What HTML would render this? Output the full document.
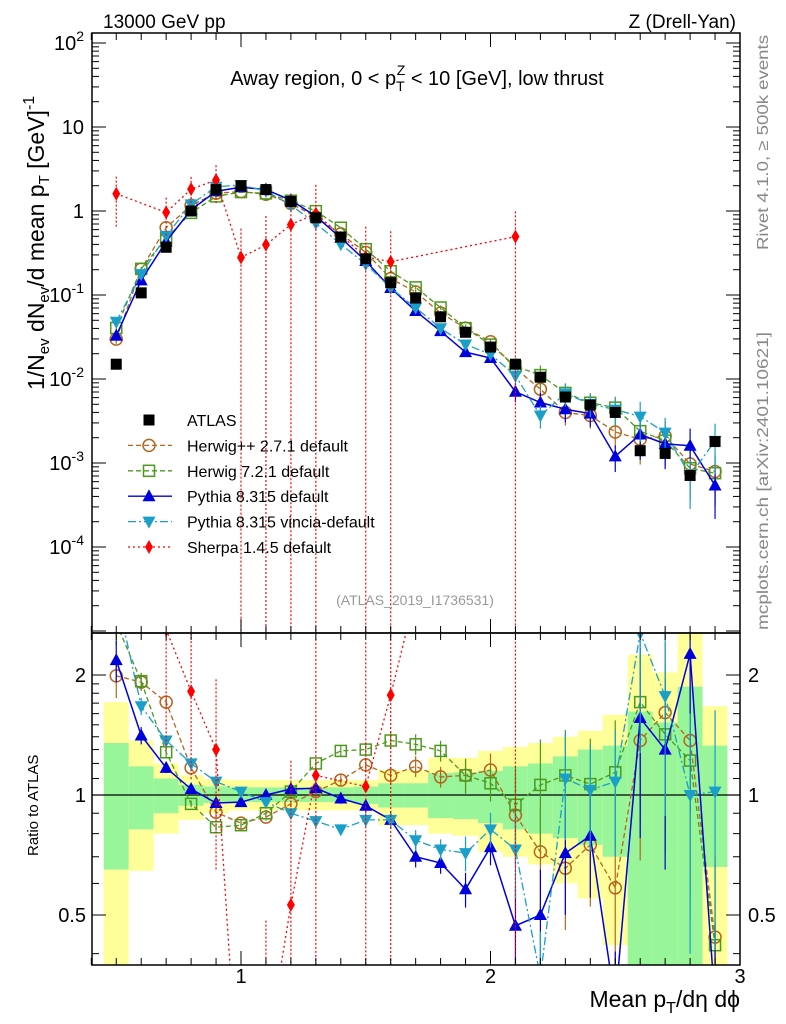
<!DOCTYPE html>
<html><head><meta charset="utf-8"><style>
html,body{margin:0;background:#fff;overflow:hidden;width:786px;height:1024px;}
svg{display:block;font-family:"Liberation Sans",sans-serif;}
</style></head><body>
<svg id="c" width="786" height="1024" viewBox="0 0 786 1024" xmlns="http://www.w3.org/2000/svg">
<defs>
<clipPath id="cm"><rect x="92" y="33" width="648" height="600"/></clipPath>
<clipPath id="cr"><rect x="92" y="633" width="648" height="332"/></clipPath>
</defs>
<g id="bands" clip-path="url(#cr)"></g>
<g id="gm" clip-path="url(#cm)"></g>
<g id="gr" clip-path="url(#cr)"></g>
<g id="axes"></g>
<text x="103" y="28" font-size="19">13000 GeV pp</text>
<text x="736" y="28" font-size="19" text-anchor="end">Z (Drell-Yan)</text>
<text x="417" y="85" font-size="20" text-anchor="middle">Away region, 0 &lt; p<tspan font-size="14" dy="6">T</tspan><tspan font-size="14" dx="-8" dy="-16">Z</tspan><tspan dy="10"> &lt; 10 [GeV], low thrust</tspan></text>
<text x="415" y="605" font-size="14" fill="#999" text-anchor="middle">(ATLAS_2019_I1736531)</text>
<text transform="translate(768,250) rotate(-90)" font-size="16" fill="#888" textLength="215" lengthAdjust="spacingAndGlyphs">Rivet 4.1.0, ≥ 500k events</text>
<text transform="translate(768,630) rotate(-90)" font-size="16" fill="#888" textLength="298" lengthAdjust="spacingAndGlyphs">mcplots.cern.ch [arXiv:2401.10621]</text>
<text transform="translate(44,390) rotate(-90)" font-size="23">1/N<tspan font-size="15" dy="5">ev</tspan><tspan dy="-5"> dN</tspan><tspan font-size="15" dy="5">ev</tspan><tspan dy="-5">/d mean p</tspan><tspan font-size="15" dy="5">T</tspan><tspan dy="-5"> [GeV]</tspan><tspan font-size="16" dy="-10">-1</tspan></text>
<text transform="translate(38,856) rotate(-90)" font-size="15">Ratio to ATLAS</text>
<text x="740" y="1007" font-size="23" text-anchor="end">Mean p<tspan font-size="16" dy="6">T</tspan><tspan dy="-6">/dη dϕ</tspan></text>
<g id="legend"></g>
</svg>
<script>
const xs=[0.5,0.6,0.7,0.8,0.9,1.0,1.1,1.2,1.3,1.4,1.5,1.6,1.7,1.8,1.9,2.0,2.1,2.2,2.3,2.4,2.5,2.6,2.7,2.8,2.9];
const atlas=[0.015,0.106,0.37,1.0,1.8,2.0,1.8,1.3,0.83,0.49,0.27,0.14,0.092,0.055,0.036,0.024,0.015,0.0105,0.0061,0.0049,0.0040,0.0014,0.0013,0.00071,0.0018];
const rHerwigPP=[1.99,1.92,1.71,1.17,0.905,0.85,0.88,0.95,1.02,1.09,1.19,1.12,1.18,1.11,1.12,1.155,0.89,0.72,0.655,0.75,0.585,1.37,1.61,1.37,0.44];
const rHerwig7=[2.7,1.93,1.28,0.95,0.83,0.84,0.90,1.02,1.2,1.29,1.30,1.37,1.34,1.29,1.12,1.07,0.945,1.06,1.12,1.065,1.14,1.71,1.42,1.22,0.42];
const rPythia=[2.18,1.41,1.17,1.035,0.955,0.96,1.0,1.035,1.04,0.98,0.94,0.866,0.70,0.675,0.58,0.74,0.47,0.50,0.715,0.79,0.3,1.56,1.30,2.26,0.3];
const rVincia=[3.2,1.67,1.37,1.2,1.08,1.02,0.96,0.90,0.86,0.82,0.866,0.866,0.77,0.73,0.715,0.82,0.73,0.35,1.10,1.03,1.08,2.55,1.77,1.0,1.02];
const rSherpa=[107,null,2.6,1.82,1.30,0.14,0.22,0.53,1.12,null,1.05,1.78,null,null,null,null,33,null,null,null,null,null,null,null,null];
const sherpaErr=[0.6,0,0.5,0.4,0.5,1.2,1.2,1.3,1.2,0,1.3,1.3,0,0,0,0,1.0,0,0,0,0,0,0,0,0];
const mcErr=[0.12,0.05,0.03,0.02,0.02,0.02,0.02,0.02,0.02,0.03,0.04,0.05,0.06,0.06,0.1,0.1,0.25,0.3,0.3,0.3,0.35,0.5,0.5,0.6,0.6];
const yHi=[1.71,1.37,1.2,1.12,1.095,1.09,1.09,1.09,1.09,1.09,1.09,1.155,1.155,1.24,1.24,1.29,1.32,1.35,1.40,1.45,1.59,2.25,2.03,2.6,1.67];
const yLo=[0.3,0.645,0.8,0.866,0.9,0.915,0.915,0.915,0.915,0.915,0.915,0.84,0.84,0.80,0.79,0.72,0.70,0.67,0.60,0.55,0.42,0.3,0.49,0.3,0.3];
const gHi=[1.35,1.18,1.10,1.06,1.05,1.045,1.045,1.045,1.045,1.045,1.05,1.07,1.07,1.135,1.14,1.15,1.18,1.2,1.25,1.3,1.33,1.62,1.52,1.87,1.33];
const gLo=[0.65,0.82,0.9,0.94,0.955,0.96,0.96,0.96,0.96,0.96,0.95,0.93,0.93,0.875,0.87,0.85,0.82,0.80,0.78,0.75,0.7,0.3,0.3,0.3,0.66];
const xTicks=[1,2,3];
const mainTicks=[2,1,0,-1,-2,-3,-4];
const mainTickExp=["2","","","-1","-2","-3","-4"];
const mainTickBase=["10","10","1","10","10","10","10"];
const ratioTicks=[2,1,0.5];

const NS="http://www.w3.org/2000/svg";
const X=v=>241+(v-1)*249.5;
const YM=v=>211-84*Math.log10(v);
const YR=r=>795-120*Math.log2(r);
function el(t,a,p){const e=document.createElementNS(NS,t);for(const k in a)e.setAttribute(k,a[k]);p.appendChild(e);return e;}
const gm=document.getElementById('gm'),gr=document.getElementById('gr'),ax=document.getElementById('axes'),bands=document.getElementById('bands'),lg=document.getElementById('legend');

xs.forEach((x,i)=>{
  const y=el('rect',{x:X(x-0.05),y:YR(yHi[i]),width:X(x+0.05)-X(x-0.05),height:YR(Math.max(yLo[i],0.3))-YR(yHi[i]),fill:'#ffff99'},bands);
  
  
  const g=el('rect',{x:X(x-0.05),y:YR(gHi[i]),width:X(x+0.05)-X(x-0.05),height:YR(Math.max(gLo[i],0.3))-YR(gHi[i]),fill:'#99f599'},bands);
  
  
});
el('line',{x1:92,x2:740,y1:YR(1),y2:YR(1),stroke:'#000','stroke-width':1.3},gr);

function marker(p,type,cx,cy,col){
  let m;
  if(type==='sq') m=el('rect',{x:cx-5.5,y:cy-5.5,width:11,height:11,fill:col},p);
  else if(type==='osq') m=el('rect',{x:cx-5.5,y:cy-5.5,width:11,height:11,fill:'none',stroke:col,'stroke-width':1.5},p);
  else if(type==='oc') m=el('circle',{cx:cx,cy:cy,r:6,fill:'none',stroke:col,'stroke-width':1.5},p);
  else if(type==='tu') m=el('polygon',{points:`${cx},${cy-7} ${cx-6.5},${cy+5} ${cx+6.5},${cy+5}`,fill:col},p);
  else if(type==='td') m=el('polygon',{points:`${cx},${cy+7} ${cx-6.5},${cy-5} ${cx+6.5},${cy-5}`,fill:col},p);
  else m=el('polygon',{points:`${cx},${cy-7} ${cx-4},${cy} ${cx},${cy+7} ${cx+4},${cy}`,fill:col},p);
  return m;
}
const series=[
 {name:'herwigpp',r:rHerwigPP,col:'#b5651d',dash:'5,3',mk:'oc',lab:'Herwig++ 2.7.1 default'},
 {name:'herwig7',r:rHerwig7,col:'#4b9a1e',dash:'5,3',mk:'osq',lab:'Herwig 7.2.1 default'},
 {name:'pythia',r:rPythia,col:'#0000dd',dash:'',mk:'tu',lab:'Pythia 8.315 default'},
 {name:'vincia',r:rVincia,col:'#1a9fc9',dash:'8,3,2,3',mk:'td',lab:'Pythia 8.315 vincia-default'},
 {name:'sherpa',r:rSherpa,col:'#ff0000',dash:'2,3',mk:'di',lab:'Sherpa 1.4.5 default'}
];
series.forEach(s=>{
  [[gm,(i)=>YM(s.r[i]*atlas[i]),(i,f)=>YM(Math.max(s.r[i]*atlas[i]*f,1e-8))],[gr,(i)=>YR(s.r[i]),(i,f)=>YR(Math.max(s.r[i]*f,0.01))]].forEach(([p,fy,fe])=>{
    const pts=[];
    xs.forEach((x,i)=>{if(s.r[i]!=null)pts.push(X(x)+','+fy(i));});
    const l=el('polyline',{points:pts.join(' '),fill:'none',stroke:s.col,'stroke-width':s.name==='pythia'?1.5:1.3,'stroke-dasharray':s.dash},p);
    
    
    xs.forEach((x,i)=>{
      if(s.r[i]==null)return;
      const e=s.name==='sherpa'?sherpaErr[i]:mcErr[i];
      const eb=el('line',{x1:X(x),x2:X(x),y1:fe(i,1+e),y2:fe(i,1-e),stroke:s.col,'stroke-width':1.2,'stroke-dasharray':s.name==='sherpa'?'2,2':''},p);
      
      
      const m=marker(p,s.mk,X(x),fy(i),s.col);
      
      
    });
  });
});
xs.forEach((x,i)=>{
  const m=marker(gm,'sq',X(x),YM(atlas[i]),'#000');
  
  
});

el('rect',{x:92,y:33,width:648,height:600,fill:'none',stroke:'#000','stroke-width':1.5},ax);
el('rect',{x:92,y:633,width:648,height:332,fill:'none',stroke:'#000','stroke-width':1.5},ax);
for(let k=4;k<=30;k++){
  const v=k/10,x=X(v),maj=k%10===0,L=maj?14:7;
  [[33,1],[633,-1],[633,1],[965,-1]].forEach(([y,d])=>el('line',{x1:x,x2:x,y1:y,y2:y+d*L,stroke:'#000'},ax));
}
xTicks.forEach(v=>{const t=el('text',{x:X(v),y:983,'font-size':20,'text-anchor':'middle'},ax);t.textContent=v;
  });
for(let d=-5;d<=2;d++){
  for(let m=1;m<10;m++){
    const v=m*Math.pow(10,d),y=YM(v);if(y<33||y>633)continue;
    const L=m===1?14:7;
    el('line',{x1:92,x2:92+L,y1:y,y2:y,stroke:'#000'},ax);el('line',{x1:740,x2:740-L,y1:y,y2:y,stroke:'#000'},ax);
  }
}
mainTicks.forEach((d,i)=>{
  const t=el('text',{x:84,y:YM(Math.pow(10,d))+7,'font-size':20,'text-anchor':'end'},ax);
  
  const b=el('tspan',{},t);b.textContent=mainTickBase[i];
  if(mainTickExp[i]){const e=el('tspan',{'font-size':14,dy:-9},t);e.textContent=mainTickExp[i];}
});
[0.4,0.5,0.6,0.7,0.8,0.9,1,1.1,1.2,1.3,1.4,1.5,1.6,1.7,1.8,1.9,2].forEach(v=>{
  const y=YR(v);if(y<633||y>965)return;const L=(v===0.5||v===1||v===2)?14:7;
  el('line',{x1:92,x2:92+L,y1:y,y2:y,stroke:'#000'},ax);el('line',{x1:740,x2:740-L,y1:y,y2:y,stroke:'#000'},ax);
});
ratioTicks.forEach(v=>{
  const t=el('text',{x:86,y:YR(v)+7,'font-size':20,'text-anchor':'end'},ax);t.textContent=v;
  
  const t2=el('text',{x:748,y:YR(v)+7,'font-size':20},ax);t2.textContent=v;
  
});

const lgItems=[{lab:'ATLAS',col:'#000',mk:'sq',dash:null}].concat(series.map(s=>({lab:s.lab,col:s.col,mk:s.mk,dash:s.dash})));
lgItems.forEach((it,i)=>{
  const y=420+i*25.4;
  const g=el('g',{},lg);
  
  
  if(it.dash!==null) el('line',{x1:128,x2:172,y1:y,y2:y,stroke:it.col,'stroke-width':1.3,'stroke-dasharray':it.dash},g);
  marker(g,it.mk,149,y,it.col);
  const t=el('text',{x:187,y:y+6,'font-size':16},g);t.textContent=it.lab;
});
</script>
</body></html>
